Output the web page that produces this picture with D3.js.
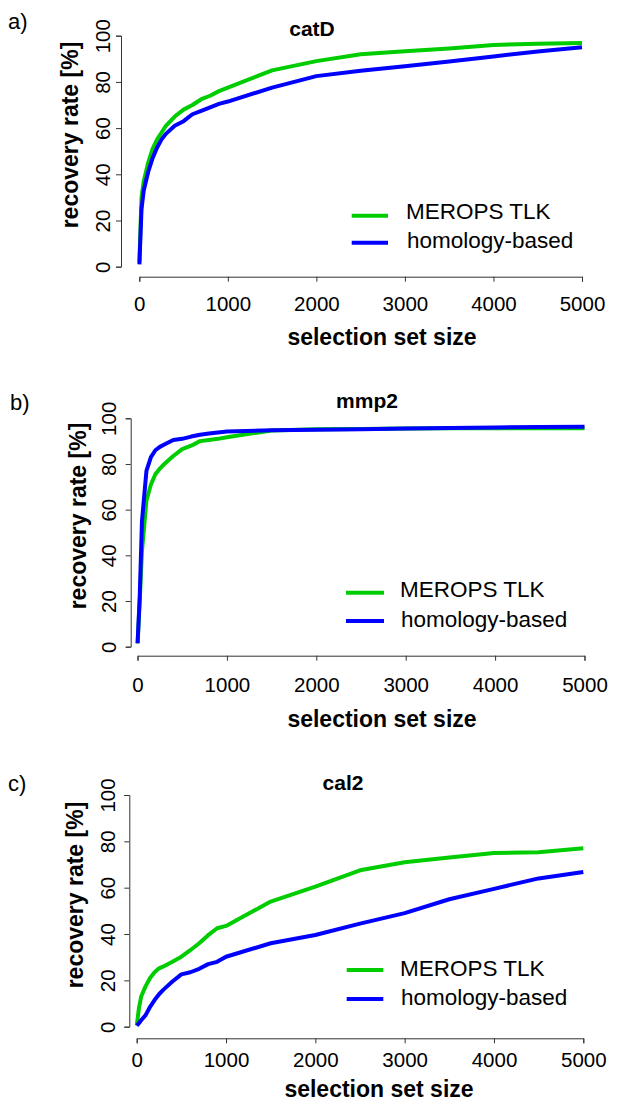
<!DOCTYPE html>
<html lang="en">
<head>
    <meta charset="UTF-8">
    <title>Recovery rate vs selection set size</title>
    <script src="https://d3js.org/d3.v7.min.js"></script>
    <style>
        body {
            margin: 0;
            padding: 0;
            background: #fff;
        }
        svg text {
            font-family: "Liberation Sans", Arial, sans-serif;
            fill: #000;
        }
        .axis path, .axis line {
            stroke: #333;
            stroke-width: 1px;
        }
        .curve {
            fill: none;
            stroke-width: 4px;
            stroke-linejoin: round;
            stroke-linecap: butt;
        }
    </style>
</head>
<body>
<div id="chart"></div>
<script>
    // shared x values (selection set size)
    const setSizes = [1, 25, 50, 100, 150, 200, 250, 300, 400, 500, 600, 700, 800, 900,
        1000, 1500, 2000, 2500, 3000, 3500, 4000, 4500, 5000];

    const xTicks = [0, 1000, 2000, 3000, 4000, 5000];
    const yTicks = [0, 20, 40, 60, 80, 100];
    const seriesNames = ["MEROPS TLK", "homology-based"];
    const seriesColors = ["#00cd00", "#0000ff"];

    // recovery rate [%]
    const catD_merops = [2, 30, 37, 45, 51, 55, 58, 61, 65, 68, 70, 72.5, 74, 76,
        77.5, 85, 89, 92, 93.3, 94.5, 96, 96.5, 96.8];
    const catD_homology = [1, 25, 33, 41, 47, 51.5, 55, 57.5, 61, 63, 66, 67.5, 69, 70.5,
        71.5, 77.5, 82.5, 84.8, 86.8, 88.8, 91, 93.2, 95];

    const mmp2_merops = [1.5, 20, 42, 64, 71, 75.5, 78, 80, 83.5, 86.5, 88, 90, 90.5, 91,
        91.7, 94.7, 95.2, 95.3, 95.5, 95.6, 95.6, 95.6, 95.6];
    const mmp2_homology = [1.5, 22, 55, 77, 83, 86, 87.5, 88.5, 90.5, 91, 92, 92.8, 93.3, 93.8,
        94.2, 94.8, 95, 95.2, 95.5, 95.8, 96, 96.2, 96.3];

    const cal2_merops = [0.5, 8, 13, 17.5, 21, 23.5, 25.2, 26, 28, 30.2, 33, 36, 39.5, 42.5,
        43.5, 54, 60.5, 67.5, 71, 73, 75, 75.3, 77];
    const cal2_homology = [0.5, 1.5, 2.8, 5, 8.6, 11.5, 14, 16, 19.5, 22.6, 23.5, 25, 27, 28,
        30.2, 36, 39.6, 44.5, 49, 55, 59.5, 64, 66.8];

    // panel layout (pixels)
    const panels = [
        {letter: "a)", title: "catD", series: [catD_merops, catD_homology],
         x0: 139.3, x1: 582, y0: 266.7, y1: 35.7, yAxisX: 121, xAxisY: 276.7,
         xTickBase: 311, yTickOff: 11, titleX: 312, titleY: 36,
         xLabX: 382, xLabY: 345, yLabX: 78, yLabY: 135,
         letterX: 8, letterY: 29,
         legX0: 351.7, legX1: 388, legY: [215.7, 242.7], legTextX: 406, legTextY: [219.3, 248.3]},
        {letter: "b)", title: "mmp2", series: [mmp2_merops, mmp2_homology],
         x0: 137.5, x1: 584.5, y0: 646.7, y1: 418.3, yAxisX: 130.7, xAxisY: 655.7,
         xTickBase: 692, yTickOff: 15, titleX: 367, titleY: 408,
         xLabX: 382, xLabY: 727, yLabX: 86, yLabY: 516,
         letterX: 10, letterY: 410,
         legX0: 346, legX1: 384, legY: [592.7, 621], legTextX: 400, legTextY: [596.7, 626.7]},
        {letter: "c)", title: "cal2", series: [cal2_merops, cal2_homology],
         x0: 136.7, x1: 583.3, y0: 1026.7, y1: 795, yAxisX: 129.3, xAxisY: 1038.3,
         xTickBase: 1067, yTickOff: 14, titleX: 343, titleY: 790,
         xLabX: 379, xLabY: 1097, yLabX: 83, yLabY: 895,
         letterX: 8, letterY: 791,
         legX0: 346.7, legX1: 383.3, legY: [970, 999], legTextX: 400, legTextY: [976, 1005]}
    ];

    const width = 617, height = 1102;
    const svg = d3.select("#chart").append("svg")
        .attr("width", width)
        .attr("height", height);

    panels.forEach(p => {
        const g = svg.append("g");
        const x = d3.scaleLinear().domain([0, 5000]).range([p.x0, p.x1]);
        const y = d3.scaleLinear().domain([0, 100]).range([p.y0, p.y1]);

        // x axis
        const xa = g.append("g")
            .attr("class", "axis")
            .attr("transform", `translate(0,${p.xAxisY})`)
            .call(d3.axisBottom(x).tickValues(xTicks).tickSizeOuter(0).tickSize(5).tickFormat(d3.format("d")));
        xa.selectAll("text")
            .attr("y", p.xTickBase - p.xAxisY)
            .attr("dy", 0)
            .style("font-size", "20.5px");

        // y axis
        const ya = g.append("g")
            .attr("class", "axis")
            .attr("transform", `translate(${p.yAxisX},0)`)
            .call(d3.axisLeft(y).tickValues(yTicks).tickSizeOuter(0).tickSize(5));
        ya.selectAll("text")
            .attr("transform", "rotate(-90)")
            .attr("x", 0)
            .attr("y", -p.yTickOff)
            .attr("dy", 0)
            .attr("text-anchor", "middle")
            .style("font-size", "20.5px");

        // curves, blue drawn over green
        const line = d3.line()
            .x((d, i) => x(setSizes[i]))
            .y(d => y(d));
        p.series.forEach((s, k) => {
            g.append("path")
                .datum(s)
                .attr("class", "curve")
                .attr("stroke", seriesColors[k])
                .attr("d", line);
        });

        // titles and labels
        g.append("text")
            .attr("x", p.titleX).attr("y", p.titleY)
            .attr("text-anchor", "middle")
            .style("font-size", "21px").style("font-weight", "bold")
            .text(p.title);
        g.append("text")
            .attr("x", p.xLabX).attr("y", p.xLabY)
            .attr("text-anchor", "middle")
            .style("font-size", "23px").style("font-weight", "bold")
            .text("selection set size");
        g.append("text")
            .attr("transform", `translate(${p.yLabX},${p.yLabY}) rotate(-90)`)
            .attr("text-anchor", "middle")
            .style("font-size", "23px").style("font-weight", "bold")
            .text("recovery rate [%]");
        g.append("text")
            .attr("x", p.letterX).attr("y", p.letterY)
            .style("font-size", "22px")
            .text(p.letter);

        // legend
        seriesNames.forEach((name, k) => {
            g.append("line")
                .attr("x1", p.legX0).attr("x2", p.legX1)
                .attr("y1", p.legY[k]).attr("y2", p.legY[k])
                .attr("stroke", seriesColors[k])
                .attr("stroke-width", 4);
            g.append("text")
                .attr("x", p.legTextX + k).attr("y", p.legTextY[k])
                .style("font-size", "22.5px")
                .text(name);
        });
    });
</script>
</body>
</html>
